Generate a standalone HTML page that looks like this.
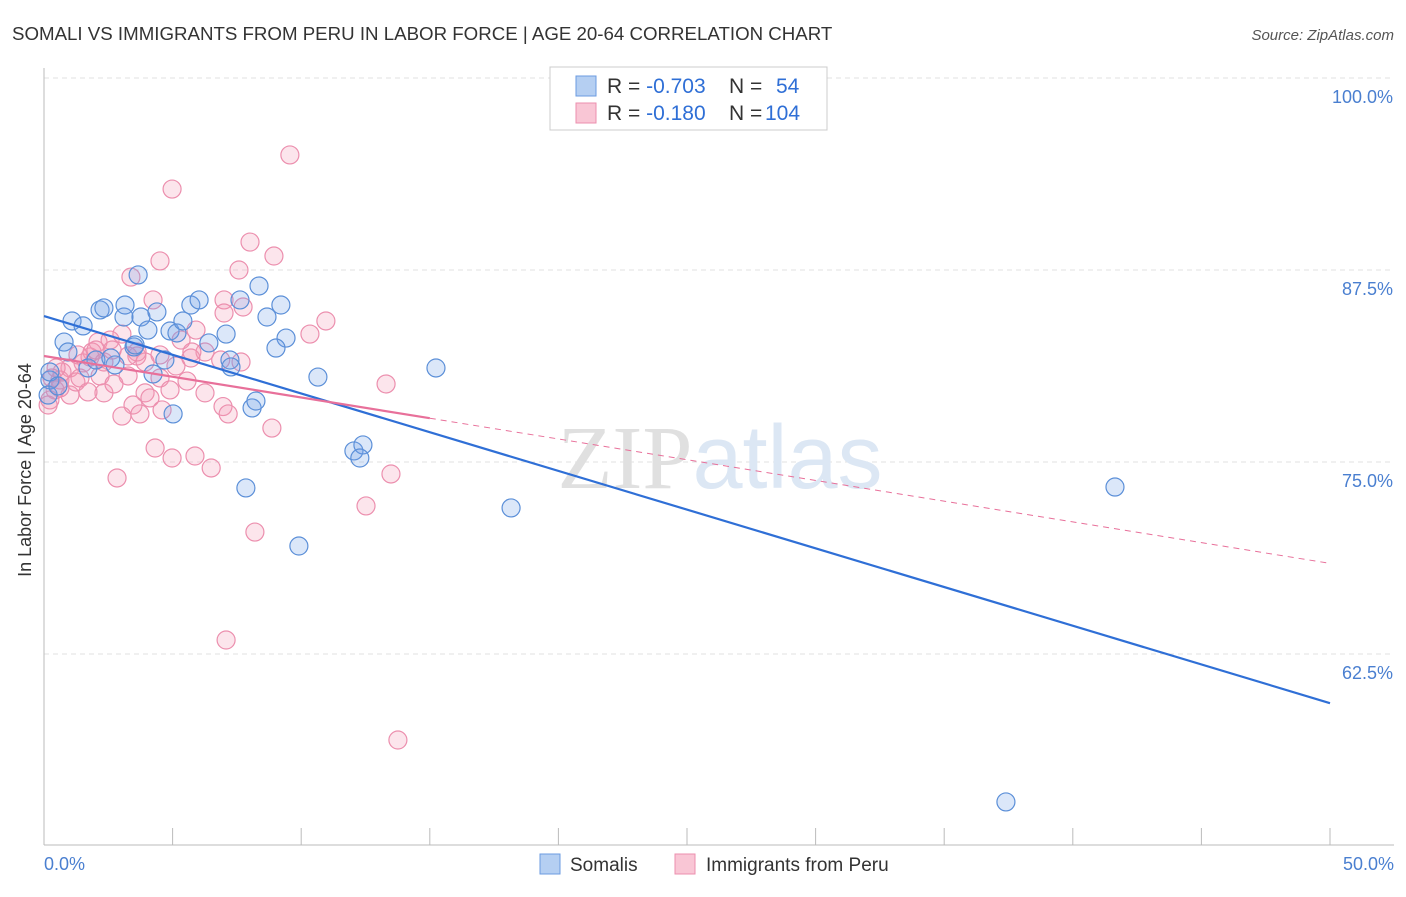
<!DOCTYPE html>
<html><head><meta charset="utf-8"><style>
body{margin:0;background:#fff;font-family:"Liberation Sans",sans-serif}
</style></head><body>
<svg width="1406" height="892" xmlns="http://www.w3.org/2000/svg" font-family="Liberation Sans, sans-serif">
<text x="12" y="40" font-size="18.7" fill="#333">SOMALI VS IMMIGRANTS FROM PERU IN LABOR FORCE | AGE 20-64 CORRELATION CHART</text>
<text x="1394" y="40" font-size="15" fill="#555" font-style="italic" text-anchor="end">Source: ZipAtlas.com</text>
<g id="grid"></g>
<text x="720" y="488" font-size="90" fill="#e4e4e4" text-anchor="middle"><tspan font-family="Liberation Serif, serif" fill="#e0e0e0">ZIP</tspan><tspan fill="#dce7f4">atlas</tspan></text>
<g id="pts"></g>
<g id="lines"></g>
<text x="19" y="458" font-size="18" fill="#333" transform="rotate(-90 31 458)" text-anchor="middle">In Labor Force | Age 20-64</text>
<g>
<rect x="550" y="67" width="277" height="63" fill="#fff" stroke="#ccc"/>
<rect x="576" y="76" width="20" height="20" fill="#b5cff2" stroke="#6b9be0"/>
<rect x="576" y="103" width="20" height="20" fill="#f9c6d5" stroke="#ec8fae"/>
<text x="607" y="93" font-size="21" fill="#333">R = <tspan fill="#2f6fd6">-0.703</tspan><tspan x="729">N = </tspan><tspan x="776" fill="#2f6fd6">54</tspan></text>
<text x="607" y="120" font-size="21" fill="#333">R = <tspan fill="#2f6fd6"> -0.180</tspan><tspan x="729">N = </tspan><tspan x="765" fill="#2f6fd6">104</tspan></text>
</g>
<g>
<rect x="540" y="854" width="20" height="20" fill="#b5cff2" stroke="#6b9be0"/>
<text x="570" y="871" font-size="19" fill="#333">Somalis</text>
<rect x="675" y="854" width="20" height="20" fill="#f9c6d5" stroke="#ec8fae"/>
<text x="706" y="871" font-size="19" fill="#333">Immigrants from Peru</text>
</g>
<text x="44" y="870" font-size="18" fill="#4a7fd0">0.0%</text>
<text x="1394" y="870" font-size="18" fill="#4a7fd0" text-anchor="end">50.0%</text>
</svg>
<script>
const yTicks=[100,87.5,75,62.5];
const yTickLabels=["100.0%","87.5%","75.0%","62.5%"];
const xTicks=[0,5,10,15,20,25,30,35,40,45,50];
const somaliX=[3.66,2.18,1.09,1.52,0.78,0.93,2.33,3.11,3.15,3.77,4.39,4.04,3.5,4.9,5.17,5.4,5.71,6.03,6.41,7.08,7.62,8.36,8.67,9.21,9.41,9.02,7.23,7.27,4.7,4.24,2.76,1.71,5.02,8.09,8.24,10.65,15.24,12.05,12.4,12.28,7.85,9.91,18.16,41.64,37.4,0.23,0.16,0.23,2.02,2.6,0.54,3.54];
const somaliY=[87.18,84.9,84.18,83.86,82.81,82.16,85.03,84.44,85.22,84.44,84.77,83.59,82.49,83.53,83.4,84.18,85.22,85.55,82.75,83.33,85.55,86.46,84.44,85.22,83.07,82.42,81.64,81.19,81.64,80.73,81.32,81.12,78.13,78.52,78.97,80.53,81.12,75.72,76.11,75.26,73.31,69.53,72.01,73.37,52.87,80.34,79.36,80.86,81.64,81.77,79.95,82.62];
const peruX=[9.56,4.98,8.01,8.94,4.51,7.58,3.38,4.24,7.0,7.74,7.0,10.96,10.34,5.91,5.33,6.26,5.71,6.87,7.66,4.51,3.61,2.1,1.87,2.57,3.03,1.52,1.01,2.18,3.27,4.51,5.56,2.33,3.93,2.72,6.26,6.96,3.46,4.12,4.59,3.73,3.03,7.16,8.86,13.3,4.32,4.98,5.87,6.5,2.84,13.49,12.52,8.2,7.08,13.76,0.62,0.43,0.23,0.16,1.01,1.24,1.4,0.7,1.79,1.32,2.02,2.33,0.47,3.93,3.62,5.13,5.75,0.62,0.31,1.71,4.9,3.27,2.65];
const peruY=[94.99,92.77,89.32,88.41,88.09,87.5,87.04,85.55,85.55,85.09,84.7,84.18,83.33,83.59,82.94,82.16,81.77,81.64,81.51,81.97,81.9,82.81,82.16,82.94,83.33,81.45,81.12,80.6,80.6,80.47,80.27,79.5,79.5,80.08,79.5,78.61,78.71,79.17,78.39,78.13,77.99,78.13,77.21,80.08,75.91,75.26,75.39,74.61,73.96,74.22,72.14,70.44,63.41,56.9,80.34,79.69,79.04,78.71,79.36,80.21,80.47,80.86,81.84,81.97,82.29,81.51,81.12,81.51,82.16,81.25,82.16,79.82,80.47,79.56,79.69,81.9,82.29];
const somaliTrend=[84.5,59.3];
const peruTrend=[81.9,68.4];
const peruSolidEnd=15;
const NS="http://www.w3.org/2000/svg";
const X0=44,X1=1330,YT=78,PX_PER=192/12.5;
const sx=v=>X0+(v/50)*(X1-X0);
const sy=v=>YT+(100-v)*PX_PER;
const grid=document.getElementById('grid');
function mk(tag,attrs,parent){const e=document.createElementNS(NS,tag);for(const k in attrs)e.setAttribute(k,attrs[k]);parent.appendChild(e);return e;}
yTicks.forEach((t,i)=>{
  const l=mk('line',{x1:X0,x2:1394,y1:sy(t),y2:sy(t),stroke:'#e2e2e2','stroke-dasharray':'5,4'},grid);
  
  
  const tx=mk('text',{x:1393,y:sy(t)+25,'font-size':18,fill:'#4a7fd0','text-anchor':'end'},grid);
  tx.textContent=yTickLabels[i];
  
  
});
const ax=mk('line',{x1:X0,x2:X0,y1:68,y2:845,stroke:'#bbb'},grid);


const bx=mk('line',{x1:X0,x2:1394,y1:845,y2:845,stroke:'#bbb'},grid);


xTicks.forEach(t=>{
  const l=mk('line',{x1:sx(t),x2:sx(t),y1:828,y2:845,stroke:'#bbb'},grid);
  
  
});
const pts=document.getElementById('pts');
peruX.forEach((v,i)=>{
  const c=mk('circle',{cx:sx(v),cy:sy(peruY[i]),r:9,fill:'rgba(244,150,180,0.25)',stroke:'#ec8fae','stroke-width':1.2},pts);
  
  
});
somaliX.forEach((v,i)=>{
  const c=mk('circle',{cx:sx(v),cy:sy(somaliY[i]),r:9,fill:'rgba(110,160,230,0.25)',stroke:'#5b8fd8','stroke-width':1.2},pts);
  
  
});
const lines=document.getElementById('lines');
const b=mk('line',{x1:sx(0),y1:sy(somaliTrend[0]),x2:sx(50),y2:sy(somaliTrend[1]),stroke:'#2f6fd6','stroke-width':2.2},lines);


const pAt=x=>peruTrend[0]+(peruTrend[1]-peruTrend[0])*x/50;
const p1=mk('line',{x1:sx(0),y1:sy(pAt(0)),x2:sx(peruSolidEnd),y2:sy(pAt(peruSolidEnd)),stroke:'#e8709a','stroke-width':2.2},lines);


const p2=mk('line',{x1:sx(peruSolidEnd),y1:sy(pAt(peruSolidEnd)),x2:sx(50),y2:sy(pAt(50)),stroke:'#e8709a','stroke-width':1,'stroke-dasharray':'6,5'},lines);


</script>
</body></html>
